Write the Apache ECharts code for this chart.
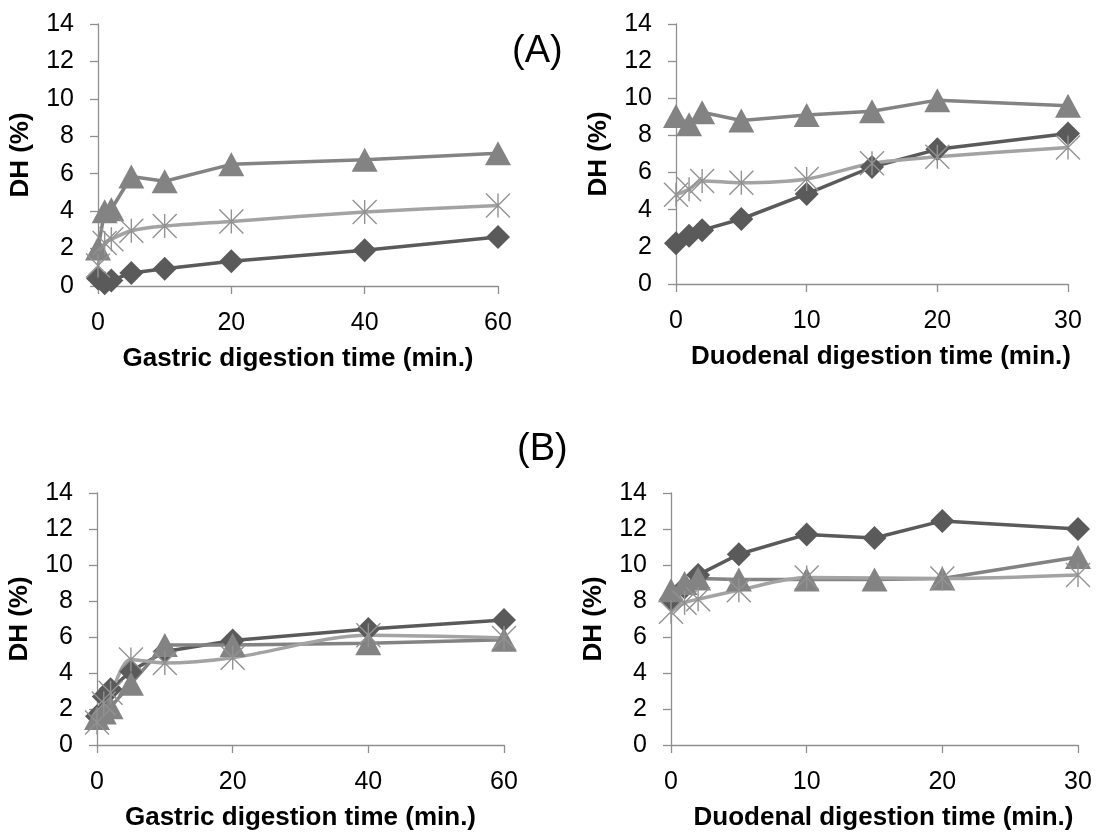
<!DOCTYPE html>
<html>
<head>
<meta charset="utf-8">
<script src="https://cdn.jsdelivr.net/npm/echarts@6/dist/echarts.min.js"></script>
<style>
html,body{margin:0;padding:0;background:#fff;}
#chart{width:1104px;height:833px;}
</style>
</head>
<body>
<div id="chart"></div>
<script>
// ---- data ----
const gastricTimes = [0, 1, 2, 5, 10, 20, 40, 60];
const duodenalTimes = [0, 1, 2, 5, 10, 15, 20, 30];

// Panel (A) gastric
const diamondAG  = [0.4, 0.15, 0.3, 0.7, 0.92, 1.32, 1.91, 2.62];
const triangleAG = [2.0, 4.0, 4.1, 5.85, 5.6, 6.5, 6.75, 7.1];
const asteriskAG = [1.1, 2.3, 2.5, 2.95, 3.2, 3.45, 3.95, 4.3];
// Panel (A) duodenal
const diamondAD  = [2.2, 2.6, 2.9, 3.5, 4.85, 6.3, 7.25, 8.1];
const triangleAD = [9.05, 8.6, 9.25, 8.8, 9.1, 9.3, 9.9, 9.6];
const asteriskAD = [4.8, 5.1, 5.55, 5.45, 5.65, 6.5, 6.85, 7.35];
// Panel (B) gastric
const diamondBG  = [1.6, 2.7, 3.1, 4.1, 5.2, 5.8, 6.45, 6.95];
const triangleBG = [1.5, 1.8, 2.1, 3.4, 5.55, 5.55, 5.65, 5.85];
const asteriskBG = [1.25, 2.3, 2.9, 4.75, 4.55, 4.85, 6.1, 5.95];
// Panel (B) duodenal
const diamondBD  = [8.1, 8.75, 9.45, 10.6, 11.7, 11.5, 12.45, 12.0];
const triangleBD = [8.6, 9.0, 9.25, 9.2, 9.2, 9.2, 9.25, 10.45];
const asteriskBD = [7.4, 7.9, 8.1, 8.6, 9.3, null, 9.25, 9.45];

const yLabel = 'DH (%)';
const gastricLabel = 'Gastric digestion time (min.)';
const duodenalLabel = 'Duodenal digestion time (min.)';
const panelLabels = ['(A)', '(B)'];

// ---- chart ----
const FONT = '"Liberation Sans", Arial, sans-serif';
const grids = [
  {left: 98, top: 24, width: 400, height: 262},
  {left: 676, top: 24, width: 392, height: 260},
  {left: 97, top: 493, width: 407, height: 252},
  {left: 671, top: 493, width: 407, height: 252}
];
const xMax = [60, 30, 60, 30];
const xInt = [20, 10, 20, 10];
const xNames = [gastricLabel, duodenalLabel, gastricLabel, duodenalLabel];
const xNamePad = [[0,0,0,0],[0,0,0,18],[0,0,0,0],[0,0,0,18]];
const times = [gastricTimes, duodenalTimes, gastricTimes, duodenalTimes];
const panels = [
  [diamondAG, triangleAG, asteriskAG],
  [diamondAD, triangleAD, asteriskAD],
  [diamondBG, triangleBG, asteriskBG],
  [diamondBD, triangleBD, asteriskBD]
];
const axisGray = '#8f8f8f';
const ASTER = 'path://M0,0L20,20M0,20L20,0M10,0L10,20';

const xAxes = [], yAxes = [], series = [];
grids.forEach((g, i) => {
  xAxes.push({
    type: 'value', gridIndex: i, min: 0, max: xMax[i], interval: xInt[i],
    splitLine: {show: false},
    axisLine: {lineStyle: {color: axisGray, width: 1.3}},
    axisTick: {length: 8, lineStyle: {color: axisGray, width: 1.3}},
    axisLabel: {color: '#000', fontSize: 25, fontFamily: FONT, margin: 25},
    name: xNames[i], nameLocation: 'middle', nameGap: 60,
    nameTextStyle: {color: '#000', fontSize: 26, fontWeight: 'bold', fontFamily: FONT, padding: xNamePad[i]}
  });
  yAxes.push({
    type: 'value', gridIndex: i, min: 0, max: 14, interval: 2,
    splitLine: {show: false},
    axisLine: {show: true, lineStyle: {color: axisGray, width: 1.3}},
    axisTick: {show: true, length: 8, lineStyle: {color: axisGray, width: 1.3}},
    axisLabel: {color: '#000', fontSize: 25, fontFamily: FONT, margin: 24},
    name: yLabel, nameLocation: 'middle', nameGap: 64,
    nameTextStyle: {color: '#000', fontSize: 26, fontWeight: 'bold', fontFamily: FONT}
  });
  const [d, t, a] = panels[i];
  const tm = times[i];
  series.push({
    type: 'line', xAxisIndex: i, yAxisIndex: i,
    data: tm.map((x, k) => [x, d[k]]),
    symbol: 'diamond', symbolSize: 24,
    lineStyle: {color: '#5a5a5a', width: 3.5},
    itemStyle: {color: '#5a5a5a'}
  });
  series.push({
    type: 'line', xAxisIndex: i, yAxisIndex: i,
    data: tm.map((x, k) => [x, t[k]]),
    symbol: 'triangle', symbolSize: [26, 24],
    lineStyle: {color: '#838383', width: 3.5},
    itemStyle: {color: '#838383'}
  });
  series.push({
    type: 'line', xAxisIndex: i, yAxisIndex: i,
    data: tm.map((x, k) => [x, a[k]]).filter(p => p[1] !== null),
    symbol: ASTER, symbolSize: 24, smooth: 0.3,
    lineStyle: {color: '#a3a3a3', width: 3.5},
    itemStyle: {color: 'rgba(0,0,0,0)', borderColor: '#929292', borderWidth: 1.4}
  });
});

const chart = echarts.init(document.getElementById('chart'), null, {renderer: 'canvas'});
chart.setOption({
  animation: false,
  backgroundColor: '#fff',
  grid: grids,
  xAxis: xAxes,
  yAxis: yAxes,
  series: series,
  graphic: [
    {type: 'text', left: 512, top: 33, style: {text: panelLabels[0], font: '38px ' + FONT, fill: '#000'}},
    {type: 'text', left: 517, top: 431, style: {text: panelLabels[1], font: '38px ' + FONT, fill: '#000'}}
  ]
});
</script>
</body>
</html>
